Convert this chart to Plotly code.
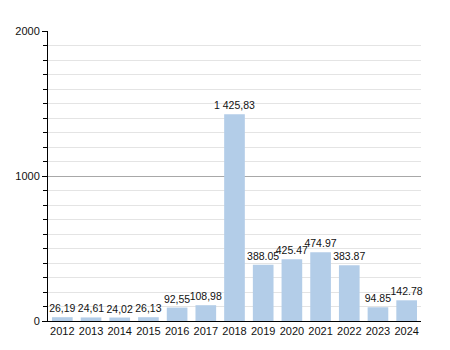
import plotly.graph_objects as go

years = ["2012", "2013", "2014", "2015", "2016", "2017", "2018",
         "2019", "2020", "2021", "2022", "2023", "2024"]
values = [26.19, 24.61, 24.02, 26.13, 92.55, 108.98, 1425.83,
          388.05, 425.47, 474.97, 383.87, 94.85, 142.78]
labels = ["26,19", "24,61", "24,02", "26,13", "92,55", "108,98", "1 425,83",
          "388.05", "425.47", "474.97", "383.87", "94.85", "142.78"]
y_ticks = [0, 1000, 2000]

fig = go.Figure(go.Bar(
    x=years, y=values, text=labels,
    textposition="outside", cliponaxis=False, constraintext="none",
    textfont=dict(family="Liberation Sans, Arial", size=10.5, color="#111"),
    marker=dict(color="#b3cde8", line=dict(width=0)),
    width=0.72,
))

fig.update_layout(
    width=450, height=350,
    margin=dict(l=48, r=29, t=31, b=29),
    paper_bgcolor="white", plot_bgcolor="white",
    font=dict(family="Liberation Sans, Arial", size=11, color="#111"),
    showlegend=False,
    bargap=0.28,
)
fig.update_xaxes(
    showgrid=False, showline=True, linecolor="black", linewidth=1,
    ticks="", tickfont=dict(size=11),
)
fig.update_yaxes(
    range=[0, 2000], tickvals=y_ticks, ticktext=[str(v) for v in y_ticks],
    showgrid=True, gridcolor="#a8a8a8", gridwidth=1,
    showline=True, linecolor="black", linewidth=1,
    ticks="outside", ticklen=5, tickcolor="black",
    zeroline=False,
    minor=dict(dtick=100, showgrid=True, gridcolor="#e4e4e4",
               ticks="outside", ticklen=4, tickcolor="black"),
)

fig.write_html("out.html")
